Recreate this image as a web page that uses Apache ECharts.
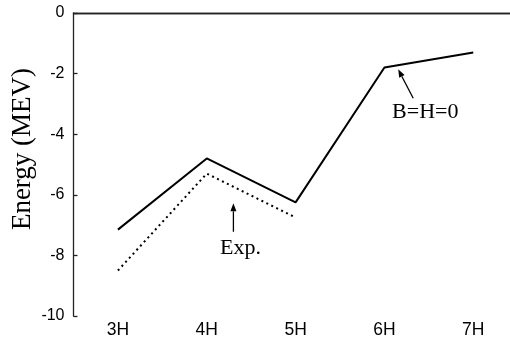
<!DOCTYPE html>
<html>
<head>
<meta charset="utf-8">
<script src="https://cdn.jsdelivr.net/npm/echarts@6/dist/echarts.min.js"></script>
<style>html,body{margin:0;padding:0;background:#fff}#c{width:510px;height:338px}</style>
</head>
<body>
<div id="c"></div>
<script>
var categories = ['3H', '4H', '5H', '6H', '7H'];
var calcValues = [-7.15, -4.8, -6.25, -1.8, -1.3];
var expValues = [-8.5, -5.3, -6.75, null, null];
var yTicks = [-10, -8, -6, -4, -2, 0];
var yTitle = 'Energy (MEV)';
// annotations: [text, textX(index), textY(value), arrowTailX, arrowTailY, arrowTipX, arrowTipY]
var annExp = ['Exp.', 1.38, -7.75, 1.30, -7.22, 1.30, -6.28];
var annBH = ['B=H=0', 3.46, -3.26, 3.324, -2.815, 3.155, -1.86];

var chart = echarts.init(document.getElementById('c'));
var axisLineStyle = {color: '#222', width: 1.3};
chart.setOption({
  animation: false,
  grid: {left: 73.5, right: -7.7, top: 13, bottom: 22, outerBoundsMode: 'none', containLabel: false},
  xAxis: [{
    type: 'category', data: categories, boundaryGap: true,
    axisLine: {lineStyle: axisLineStyle},
    axisTick: {inside: true, alignWithLabel: true, length: 4, lineStyle: axisLineStyle},
    axisLabel: {fontFamily: 'Liberation Sans', fontSize: 17.5, color: '#000', margin: 5},
    splitLine: {show: false}
  }, {
    type: 'category', data: categories, boundaryGap: true, position: 'top',
    axisLine: {lineStyle: axisLineStyle},
    axisTick: {inside: true, alignWithLabel: true, length: 4, lineStyle: axisLineStyle},
    axisLabel: {show: false}
  }],
  yAxis: {
    type: 'value', min: yTicks[0], max: yTicks[yTicks.length - 1], interval: 2,
    axisLine: {show: true, lineStyle: axisLineStyle},
    axisTick: {show: true, inside: true, length: 4, lineStyle: axisLineStyle},
    axisLabel: {fontFamily: 'Liberation Sans', fontSize: 16, color: '#000', margin: 9},
    splitLine: {show: false}
  },
  series: [{
    type: 'line', data: calcValues, symbol: 'none',
    lineStyle: {color: '#000', width: 2}
  }, {
    type: 'line', data: expValues, symbol: 'none', connectNulls: false,
    lineStyle: {color: '#000', width: 2, type: [2, 3.5]}
  }]
});

function toPx(xi, yv) {
  var a = chart.convertToPixel({gridIndex: 0}, [0, yv]);
  var b = chart.convertToPixel({gridIndex: 0}, [1, yv]);
  return [a[0] + xi * (b[0] - a[0]), a[1]];
}
function ann(a) {
  var t = toPx(a[1], a[2]);
  var p0 = toPx(a[3], a[4]);
  var p1 = toPx(a[5], a[6]);
  var dx = p1[0] - p0[0], dy = p1[1] - p0[1];
  var len = Math.sqrt(dx * dx + dy * dy), ux = dx / len, uy = dy / len;
  var hl = 8, hw = 3;
  var bx = p1[0] - ux * hl, by = p1[1] - uy * hl;
  return [{
    type: 'text', x: t[0], y: t[1],
    style: {text: a[0], fontFamily: 'Liberation Serif', fontSize: 22, fill: '#000', align: 'center', verticalAlign: 'middle'}
  }, {
    type: 'line', shape: {x1: p0[0], y1: p0[1], x2: bx, y2: by},
    style: {stroke: '#000', lineWidth: 1.3}
  }, {
    type: 'polygon', shape: {points: [[p1[0], p1[1]], [bx - uy * hw, by + ux * hw], [bx + uy * hw, by - ux * hw]]},
    style: {fill: '#000'}
  }];
}
var titleEl = {
  type: 'text', x: 23, y: 149, rotation: Math.PI / 2,
  style: {text: yTitle, fontFamily: 'Liberation Serif', fontSize: 27, fill: '#000', align: 'center', verticalAlign: 'middle'}
};
chart.setOption({graphic: [titleEl].concat(ann(annExp)).concat(ann(annBH))});
</script>
</body>
</html>
